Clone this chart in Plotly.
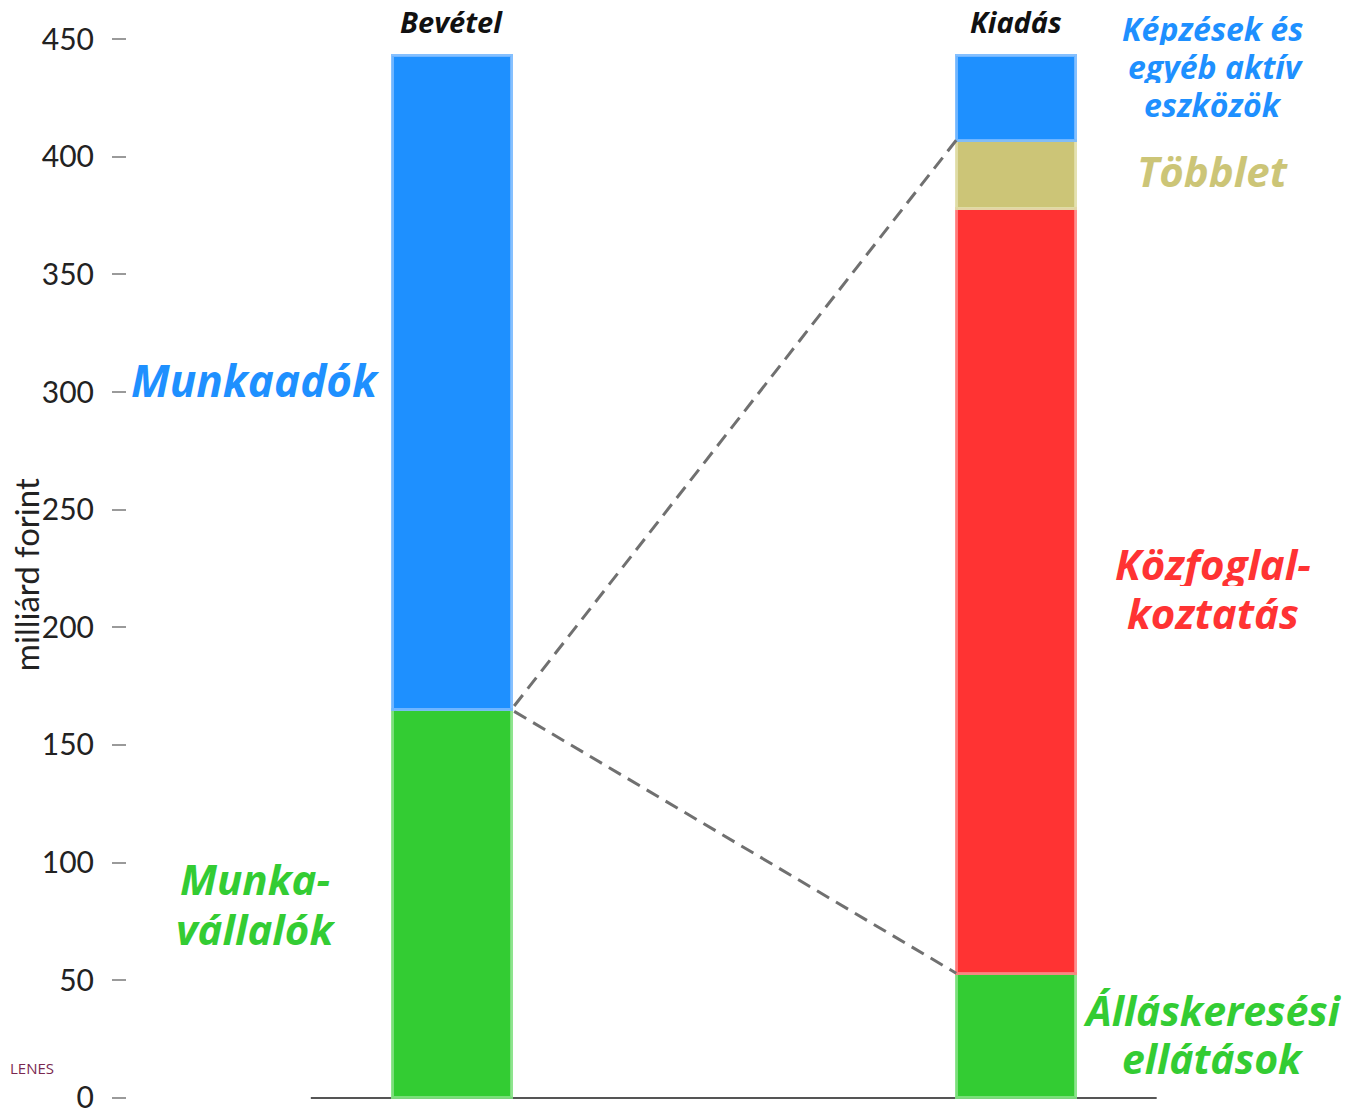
import plotly.graph_objects as go

# Data (milliárd forint)
columns = ["Bevétel", "Kiadás"]
bev_labels = ["Munkavállalók", "Munkaadók"]
bev_values = [165, 278]
kia_labels = ["Álláskeresési ellátások", "Közfoglalkoztatás", "Többlet", "Képzések és egyéb aktív eszközök"]
kia_values = [53, 325, 29, 36]
y_ticks = [0, 50, 100, 150, 200, 250, 300, 350, 400, 450]

bev_colors = ["#33CC33", "#1E90FF"]
bev_lines = ["rgba(130,225,130,0.9)", "rgba(120,185,255,0.9)"]
kia_colors = ["#33CC33", "#FF3333", "#CCC577", "#1E90FF"]
kia_lines = ["rgba(130,225,130,0.9)", "rgba(255,130,130,0.9)", "rgba(225,222,170,0.9)", "rgba(120,185,255,0.9)"]

Y0, Y1 = -3, 453
bar_w = 0.211
fig = go.Figure()

for i, (lab, v) in enumerate(zip(bev_labels, bev_values)):
    fig.add_trace(go.Bar(x=[0], y=[v], width=bar_w, name=lab,
                         marker=dict(color=bev_colors[i], line=dict(color=bev_lines[i], width=3)),
                         showlegend=False, hoverinfo="y+name"))
for i, (lab, v) in enumerate(zip(kia_labels, kia_values)):
    fig.add_trace(go.Bar(x=[1], y=[v], width=bar_w, name=lab,
                         marker=dict(color=kia_colors[i], line=dict(color=kia_lines[i], width=3)),
                         showlegend=False, hoverinfo="y+name"))

# dashed connector lines
split = bev_values[0]
kia_low = kia_values[0]
kia_high = sum(kia_values[:3])
x0 = 0 + bar_w / 2
x1 = 1 - bar_w / 2
fig.add_trace(go.Scatter(x=[x1, x0, x1], y=[kia_high, split, kia_low], mode="lines",
                         line=dict(color="#707070", width=3, dash="14px,8px"),
                         showlegend=False, hoverinfo="skip"))

fig.add_shape(type="line", x0=-0.25, x1=1.25, y0=0, y1=0, xref="x", yref="y",
              line=dict(color="#555555", width=2), layer="below")


def py(v):
    return (v - Y0) / (Y1 - Y0)


LF = "Open Sans"
bold_it = dict(family=LF, weight="bold", style="italic")
blue, green, red, tan = "#1E90FF", "#33CC33", "#FF3333", "#CCC577"

label_lines = [
    # text, x, value-y, size, color, box height
    ("Munkaadók", -0.349, 305.1, 44, blue, 50),
    ("Munka-", -0.349, 93.5, 42, green, 46),
    ("vállalók", -0.349, 72.2, 42, green, 46),
    ("Képzések és", 1.349, 454.7, 32, blue, 34),
    ("egyéb aktív", 1.356, 438.6, 32, blue, 34),
    ("eszközök", 1.349, 422.4, 32, blue, 34),
    ("Többlet", 1.349, 394.3, 42, tan, 46),
    ("Közfoglal-", 1.349, 227.3, 42, red, 45),
    ("koztatás", 1.349, 206.5, 42, red, 45),
    ("Álláskeresési", 1.349, 37.4, 41, green, 44),
    ("ellátások", 1.349, 17.0, 41, green, 44),
]
ann = []
for t, x, v, s, c, h in label_lines:
    ann.append(dict(x=x, y=py(v), xref="x", yref="paper", text=t, showarrow=False,
                    xanchor="center", yanchor="middle", height=h, valign="middle",
                    font=dict(size=s, color=c, **bold_it)))

# column headers
for t, x in zip(columns, [0.0, 1.0]):
    ann.append(dict(x=x, y=py(457.6), xref="x", yref="paper", text=t, showarrow=False,
                    xanchor="center", yanchor="middle", height=24, valign="middle",
                    font=dict(size=29, color="#111111", **bold_it)))

# y axis title as annotation
ann.append(dict(x=-0.082, y=py(222.2), xref="paper", yref="paper", text="milliárd forint",
                textangle=-90, showarrow=False, xanchor="center", yanchor="middle",
                font=dict(family="Lato", size=33, color="#222222")))

ann.append(dict(x=-119 / 1231, y=(1111 - 1060 - 14) / (1111 - 24 - 14), xref="paper", yref="paper",
                text="LENES", showarrow=False, xanchor="left", yanchor="middle",
                font=dict(family="Open Sans", size=15, color="#7A2850")))

fig.update_layout(
    width=1350, height=1111,
    margin=dict(l=119, r=0, t=24, b=14),
    paper_bgcolor="white", plot_bgcolor="white",
    barmode="stack",
    annotations=ann,
    xaxis=dict(range=[-0.576, 1.607], visible=False, showgrid=False, zeroline=False),
    yaxis=dict(range=[Y0, Y1], tickvals=y_ticks, ticks="outside", ticklen=14, tickwidth=1.5,
               tickcolor="#9a9a9a", showline=False, showgrid=False, zeroline=False,
               ticklabelstandoff=12, ticklabeloverflow="allow",
               tickfont=dict(family="Lato", size=30, color="#222222")),
)

fig.write_html("out.html")
